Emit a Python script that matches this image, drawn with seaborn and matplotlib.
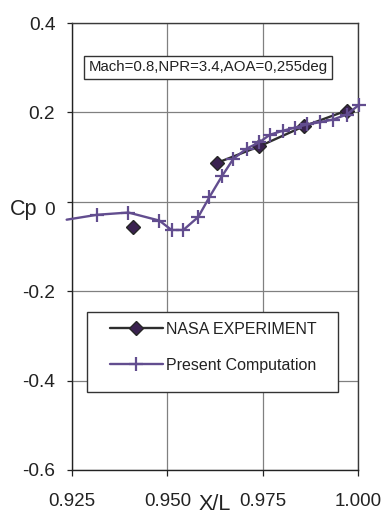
import numpy as np
import pandas as pd
import matplotlib
matplotlib.use("Agg")
import matplotlib.pyplot as plt
import seaborn as sns
from matplotlib.lines import Line2D
from matplotlib.patches import Rectangle
from matplotlib.transforms import ScaledTranslation

# ---- data ----
exp_x = [0.9409, 0.9630, 0.9741, 0.9858, 0.9970]
exp_cp = [-0.057, 0.087, 0.124, 0.169, 0.204]

comp_x = [0.9236, 0.9316, 0.9398, 0.9479, 0.9511, 0.9542, 0.9581, 0.9610,
          0.9643, 0.9673, 0.9708, 0.9741, 0.9769, 0.9803, 0.9835, 0.9866,
          0.9900, 0.9934, 0.9970, 1.0003]
comp_cp = [-0.040, -0.029, -0.024, -0.042, -0.063, -0.063, -0.034, 0.010,
           0.057, 0.096, 0.119, 0.133, 0.150, 0.159, 0.166, 0.173,
           0.178, 0.184, 0.195, 0.217]

x_ticks = [0.925, 0.950, 0.975, 1.000]
x_tick_labels = ["0.925", "0.950", "0.975", "1.000"]
y_ticks = [-0.6, -0.4, -0.2, 0.0, 0.2, 0.4]
y_tick_labels = ["-0.6", "-0.4", "-0.2", "0", "0.2", "0.4"]

exp_label = "NASA EXPERIMENT"
comp_label = "Present Computation"
note_text = "Mach=0.8,NPR=3.4,AOA=0,255deg"

# ---- style ----
sns.set_theme(style="white")
plt.rcParams["font.family"] = ["Liberation Sans", "DejaVu Sans"]

purple = "#624d8f"
exp_line = "#2e2e2e"
exp_face = "#3a2250"
grid_c = "#808080"
spine_c = "#3a3a3a"

W, H = 385, 517
fig = plt.figure(figsize=(W / 100, H / 100), dpi=100, facecolor="white")
ax_l, ax_r, ax_t, ax_b = 72, 358, 23, 470
ax = fig.add_axes([ax_l / W, (H - ax_b) / H, (ax_r - ax_l) / W, (ax_b - ax_t) / H])
ax.set_facecolor("white")

exp_df = pd.DataFrame({"x": exp_x, "cp": exp_cp})
comp_df = pd.DataFrame({"x": comp_x, "cp": comp_cp})

# experiment: isolated first point, then connected points
sns.lineplot(data=exp_df.iloc[:1], x="x", y="cp", ax=ax, marker="D",
             markersize=7, markerfacecolor=exp_face, markeredgecolor="#262626",
             markeredgewidth=1.0, linestyle="", color=exp_line, legend=False,
             clip_on=False, zorder=2.5)
sns.lineplot(data=exp_df.iloc[1:], x="x", y="cp", ax=ax, sort=False, marker="D",
             markersize=7, markerfacecolor=exp_face, markeredgecolor="#262626",
             markeredgewidth=1.0, color=exp_line, linewidth=1.7, legend=False,
             clip_on=False, zorder=2.5)

# computation: line, markers on all but the first point
sns.lineplot(data=comp_df, x="x", y="cp", ax=ax, sort=False, color=purple,
             linewidth=1.7, legend=False, clip_on=False, zorder=3)
sns.lineplot(data=comp_df.iloc[1:], x="x", y="cp", ax=ax, sort=False,
             marker="+", markersize=9.5, markeredgewidth=1.6,
             markeredgecolor=purple, color=purple, linestyle="",
             legend=False, clip_on=False, zorder=3)

# ---- axes ----
ax.set_xlim(0.925, 1.0)
ax.set_ylim(-0.6, 0.4)
ax.set_xticks(x_ticks)
ax.set_xticklabels(x_tick_labels)
ax.set_yticks(y_ticks)
ax.set_yticklabels(y_tick_labels)
ax.grid(True, color=grid_c, linewidth=0.9)
ax.set_axisbelow(True)
for s in ax.spines.values():
    s.set_visible(True)
    s.set_color(spine_c)
    s.set_linewidth(1.0)
ax.spines["left"].set_color("#222222")
ax.spines["bottom"].set_color("#222222")

ax.tick_params(axis="y", which="major", left=True, length=3.6, width=0.9,
               color="#222222", pad=8.4, labelsize=13.8, labelcolor="#222222")
ax.tick_params(axis="x", which="major", bottom=True, length=4.3, width=0.9,
               color="#222222", pad=12.5, labelsize=13.5, labelcolor="#222222")

# shift the "0" label slightly down (as in the reference)
for lab in ax.get_yticklabels():
    if lab.get_text() == "0":
        lab.set_transform(lab.get_transform() +
                          ScaledTranslation(0, -7 / 100, fig.dpi_scale_trans))

ax.set_xlabel("X/L", fontsize=15.5, color="#222222")
ax.xaxis.set_label_coords((215 - ax_l) / (ax_r - ax_l), (ax_b - 505) / (ax_b - ax_t))
ax.xaxis.label.set_va("center")
ax.set_ylabel("Cp", fontsize=15.5, color="#222222", rotation=0)
ax.yaxis.set_label_coords((23.5 - ax_l) / (ax_r - ax_l), (ax_b - 209) / (ax_b - ax_t))
ax.yaxis.label.set_va("center")
ax.yaxis.label.set_ha("center")

# ---- annotation box ----
ax.text((208 - ax_l) / (ax_r - ax_l), (ax_b - 67) / (ax_b - ax_t), note_text,
        transform=ax.transAxes, ha="center", va="center", fontsize=10.8,
        color="#222222", zorder=6,
        bbox=dict(boxstyle="square,pad=0.3", facecolor="white",
                  edgecolor="#333333", linewidth=1.0))

# ---- legend ----
fx = lambda px: (px - ax_l) / (ax_r - ax_l)
fy = lambda py: (ax_b - py) / (ax_b - ax_t)
ax.add_patch(Rectangle((fx(87), fy(392)), fx(338) - fx(87), fy(312) - fy(392),
                       transform=ax.transAxes, facecolor="white",
                       edgecolor="#333333", linewidth=1.0, zorder=4))
h_exp = Line2D([], [], color=exp_line, linewidth=1.7, marker="D", markersize=7,
               markerfacecolor=exp_face, markeredgecolor="#262626")
h_comp = Line2D([], [], color=purple, linewidth=1.7, marker="+", markersize=9.5,
                markeredgewidth=1.6, markeredgecolor=purple)
leg = ax.legend([h_exp, h_comp], [exp_label, comp_label], loc="upper left",
                bbox_to_anchor=(fx(110), fy(322)), frameon=False, borderpad=0,
                borderaxespad=0, handlelength=3.3, handletextpad=0.2,
                labelspacing=1.3, fontsize=11.5)
leg.set_zorder(5)
for t in leg.get_texts():
    t.set_color("#222222")

fig.savefig("out.png", dpi=100, facecolor="white")
